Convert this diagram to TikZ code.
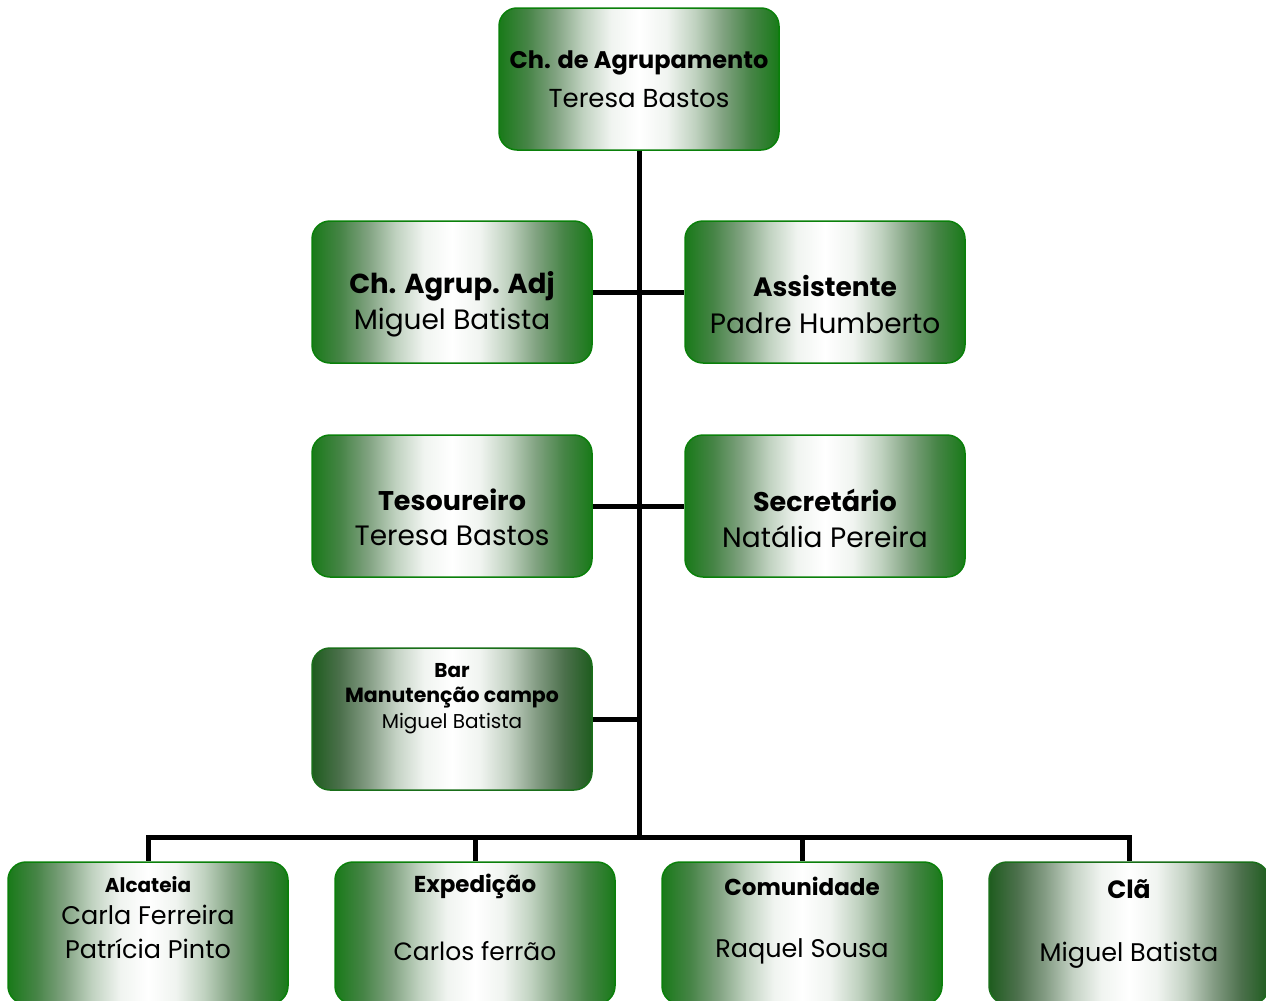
\documentclass[tikz,border=0pt]{standalone}
\usepackage{fontspec}
\setmainfont{Poppins}
\definecolor{gA}{RGB}{10,128,10}
\definecolor{gB}{RGB}{25,110,25}
\definecolor{a0}{RGB}{25,122,25}
\definecolor{a1}{RGB}{70,132,70}
\definecolor{a2}{RGB}{128,162,128}
\definecolor{a3}{RGB}{192,210,192}
\definecolor{a4}{RGB}{240,244,240}
\definecolor{b0}{RGB}{30,92,30}
\definecolor{b1}{RGB}{76,112,76}
\definecolor{b2}{RGB}{132,156,132}
\definecolor{b3}{RGB}{196,210,196}
\definecolor{b4}{RGB}{240,244,240}
\pgfdeclarehorizontalshading{shadeA}{100bp}{color(0bp)=(a0); color(25bp)=(a0); color(30bp)=(a1); color(35bp)=(a2); color(40bp)=(a3); color(45bp)=(a4); color(50bp)=(white); color(55bp)=(a4); color(60bp)=(a3); color(65bp)=(a2); color(70bp)=(a1); color(75bp)=(a0); color(100bp)=(a0)}
\pgfdeclarehorizontalshading{shadeB}{100bp}{color(0bp)=(b0); color(25bp)=(b0); color(30bp)=(b1); color(35bp)=(b2); color(40bp)=(b3); color(45bp)=(b4); color(50bp)=(white); color(55bp)=(b4); color(60bp)=(b3); color(65bp)=(b2); color(70bp)=(b1); color(75bp)=(b0); color(100bp)=(b0)}
\tikzset{
  boxbase/.style={rounded corners=18pt, line width=1.5pt, minimum width=280pt, minimum height=142pt, inner sep=0pt},
  boxA/.style={boxbase, draw=gA, shade, shading=shadeA},
  boxB/.style={boxbase, draw=gB, shade, shading=shadeB},
  conn/.style={line width=5pt},
  tb/.style={font=\fontsize{#1}{#1}\selectfont\bfseries, inner sep=0pt, anchor=center},
  tr/.style={font=\fontsize{#1}{#1}\selectfont, inner sep=0pt, anchor=center},
}
\begin{document}
\begin{tikzpicture}[x=1pt,y=-1pt]
\useasboundingbox (0,0) rectangle (1266,1001);
\clip (0,0) rectangle (1266,1001);
% boxes
\node[boxA] (chefe) at (639,79) {};
\node[boxA] (adj) at (452,292) {};
\node[boxA] (assist) at (825,292) {};
\node[boxA] (tes) at (452,506) {};
\node[boxA] (sec) at (825,506) {};
\node[boxB] (bar) at (452,719) {};
\node[boxA] (alc) at (148,933) {};
\node[boxA] (exp) at (475,933) {};
\node[boxA] (com) at (802,933) {};
\node[boxB] (cla) at (1129,933) {};
% connectors
\coordinate (j3) at (639,719);
\coordinate (bus) at (639,837);
\coordinate (bl) at (148,837);
\coordinate (br) at (1129,837);
\draw[conn] (chefe.south) -- (bus);
\draw[conn] (adj.east) -- (assist.west);
\draw[conn] (tes.east) -- (sec.west);
\draw[conn] (bar.east) -- (j3);
\draw[conn,line cap=rect] (bl) -- (br);
\draw[conn] (bl) -- (alc.north);
\draw[conn] (exp.north |- bus) -- (exp.north);
\draw[conn] (com.north |- bus) -- (com.north);
\draw[conn] (br) -- (cla.north);
% texts
\node[tb=24] (t1) at (639,63) {Ch. de Agrupamento};
\node[tr=26] (t2) at (639,99) {Teresa Bastos};
\node[tb=27.5] (t3) at (452,286) {Ch. Agrup. Adj};
\node[tr=28] (t4) at (452,323) {Miguel Batista};
\node[tb=26.5] (t5) at (825,286) {Assistente};
\node[tr=28] (t6) at (825,323) {Padre Humberto};
\node[tb=27] (t7) at (452,500) {Tesoureiro};
\node[tr=28] (t8) at (452,536) {Teresa Bastos};
\node[tb=27] (t9) at (825,500) {Secretário};
\node[tr=28] (t10) at (825,537) {Natália Pereira};
\node[tb=20] (t11) at (452,671) {Bar};
\node[tb=20.5] (t12) at (452,698) {Manutenção campo};
\node[tr=20] (t13) at (452,724) {Miguel Batista};
\node[tb=20] (t14) at (148,885) {Alcateia};
\node[tr=25.5] (t15) at (148,915) {Carla Ferreira};
\node[tr=25.5] (t16) at (148,949) {Patrícia Pinto};
\node[tb=23] (t17) at (475,886) {Expedição};
\node[tr=25] (t18) at (475,951) {Carlos ferrão};
\node[tb=23] (t19) at (802,886) {Comunidade};
\node[tr=25.5] (t20) at (802,951) {Raquel Sousa};
\node[tb=25] (t21) at (1129,889) {Clã};
\node[tr=25.5] (t22) at (1129,955) {Miguel Batista};
\end{tikzpicture}
\end{document}
